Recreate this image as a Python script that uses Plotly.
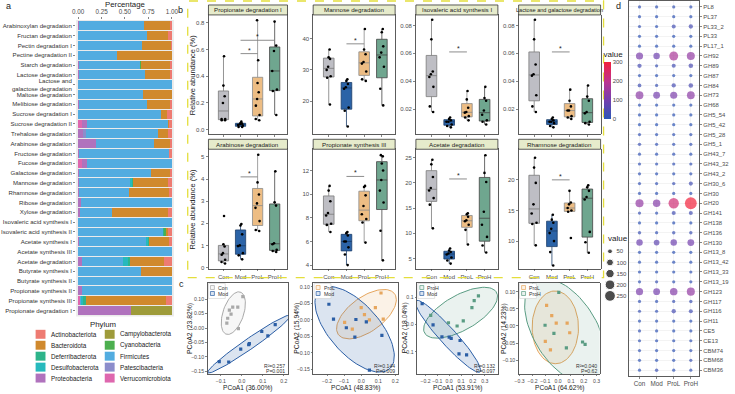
import numpy as np
import plotly.graph_objects as go

W, H = 735, 394
FONT = "Liberation Sans"
TXT = "#4D4D4D"
DARK = "#1A1A1A"


def fx(px):
    return px / W


def fy(py):
    return 1 - py / H


# ---------------- a: phylum composition of pathways ----------------
pathways = ["Arabinoxylan degradation", "Fructan degradation", "Pectin degradation I",
            "Pectine degradation II", "Starch degradation", "Lactose degradation",
            "Lactose and<br>galactose degradation", "Maltose degradation",
            "Melibiose degradation", "Sucrose degradation I", "Sucrose degradation II",
            "Trehalose degradation", "Arabinose degradation", "Fructose degradation",
            "Fucose degradation", "Galactose degradation", "Mannose degradation",
            "Rhamnose degradation", "Ribose degradation", "Xylose degradation",
            "Isovaleric acid synthesis I", "Isovaleric acid synthesis II",
            "Acetate synthesis I", "Acetate synthesis III", "Acetate degradation",
            "Butyrate synthesis I", "Butyrate synthesis II", "Propionate synthesis II",
            "Propionate synthesis III", "Propionate degradation I"]

verrucomicrobiota = [0, 0, 0, 0, 0, 0, 0, 0, 0, 0, .045, 0, 0, 0, .042, 0, 0, 0, 0, 0, 0, 0, 0, 0, 0, 0, 0, 0, .025, 0]
proteobacteria = [.005, 0, 0, 0, .01, .01, 0, 0, .015, 0, .055, .05, .19, .01, .056, .015, .015, .015, .035, .02, 0, 0, .015, 0, .042, 0, 0, .046, 0, .56]
patescibacteria = [0, 0, 0, 0, 0, 0, 0, 0, 0, 0, 0, .03, 0, 0, 0, 0, 0, 0, 0, 0, 0, 0, 0, 0, 0, 0, 0, 0, 0, 0]
firmicutes = [.695, .737, .677, .42, .65, .70, 1, .695, .722, .888, .858, .773, .617, .955, .902, .767, .54, .53, .965, .338, 1, .91, .705, 1, .432, .667, 1, .954, .01, 0]
desulfobacterota = [0, 0, 0, 0, 0, .005, 0, 0, 0, 0, 0, 0, 0, 0, 0, 0, .015, 0, 0, 0, 0, 0, .025, 0, .06, 0, 0, 0, .02, 0]
deferribacterota = [0, 0, 0, 0, .005, 0, 0, 0, 0, 0, 0, 0, 0, 0, 0, 0, .02, 0, 0, 0, 0, .01, .015, 0, .02, 0, 0, 0, .025, 0]
cyanobacteria = [0, 0, 0, 0, .01, 0, 0, 0, 0, 0, 0, 0, 0, 0, 0, 0, 0, 0, 0, 0, 0, .015, 0, 0, 0, 0, 0, 0, 0, 0]
campylobacterota = [0, 0, 0, 0, 0, 0, 0, 0, 0, 0, 0, 0, 0, 0, 0, 0, 0, 0, 0, 0, 0, 0, 0, 0, 0, 0, 0, 0, 0, .44]
bacteroidota = [.28, .221, .313, .58, .305, .265, 0, .305, .243, .062, .012, .105, .173, 0, 0, .198, .368, .42, 0, .60, 0, .02, .21, 0, .365, .333, 0, 0, .86, 0]
actinobacteriota = [.02, .042, .01, 0, .02, .02, 0, 0, .02, .05, .03, .042, .02, .035, 0, .02, .042, .035, 0, .042, 0, .045, .03, 0, .081, 0, 0, 0, .06, 0]

stack_names = ["Verrucomicrobiota", "Proteobacteria", "Patescibacteria", "Firmicutes",
               "Desulfobacterota", "Deferribacterota", "Cyanobacteria", "Campylobacterota",
               "Bacteroidota", "Actinobacteriota"]
stack_values = [verrucomicrobiota, proteobacteria, patescibacteria, firmicutes,
                desulfobacterota, deferribacterota, cyanobacteria, campylobacterota,
                bacteroidota, actinobacteriota]
phylum_colors = {
    "Actinobacteriota": "#EE7B72", "Bacteroidota": "#D0892D", "Campylobacterota": "#9E9B3A",
    "Cyanobacteria": "#4CAF4F", "Deferribacterota": "#2DB48A", "Desulfobacterota": "#27B9BD",
    "Firmicutes": "#52ACE0", "Patescibacteria": "#8C8DCB", "Proteobacteria": "#B072BD",
    "Verrucomicrobiota": "#DE67AE"}
legend_col1 = ["Actinobacteriota", "Bacteroidota", "Deferribacterota", "Desulfobacterota", "Proteobacteria"]
legend_col2 = ["Campylobacterota", "Cyanobacteria", "Firmicutes", "Patescibacteria", "Verrucomicrobiota"]

# ---------------- b: relative abundance boxplots ----------------
groups = ["Con", "Mod", "ProL", "ProH"]
b_titles = ["Propionate degradation I", "Mannose degradation", "Isovaleric acid synthesis I",
            "Lactose and galactose degradation", "Arabinose degradation",
            "Propionate synthesis III", "Acetate degradation", "Rhamnose degradation"]
b_values = [
    [[0.55, 0.33, 0.25, 0.20, 0.08, 0.08, 0.07, 0.07],
     [0.06, 0.05, 0.045, 0.04, 0.035, 0.03, 0.02, 0.02],
     [0.82, 0.52, 0.35, 0.28, 0.23, 0.18, 0.11, 0.08, 0.07],
     [0.81, 0.63, 0.59, 0.44, 0.30, 0.29, 0.11]],
    [[36.5, 34, 33.5, 31, 30, 28, 27.5, 19],
     [27, 26.5, 25.5, 24.5, 24, 18, 17, 12],
     [43, 36.5, 35, 32.5, 32, 29.5, 27, 26.5],
     [43, 42, 37.5, 35.5, 34, 31, 24, 18.7]],
    [[0.084, 0.070, 0.047, 0.045, 0.043, 0.036, 0.022, 0.018],
     [0.014, 0.013, 0.012, 0.011, 0.011, 0.009, 0.008, 0.007],
     [0.033, 0.027, 0.021, 0.018, 0.0175, 0.015, 0.014, 0.012],
     [0.036, 0.028, 0.026, 0.019, 0.016, 0.012, 0.011, 0.009]],
    [[0.084, 0.070, 0.052, 0.045, 0.044, 0.030, 0.022, 0.018],
     [0.014, 0.013, 0.012, 0.011, 0.011, 0.010, 0.008, 0.007],
     [0.034, 0.026, 0.022, 0.019, 0.019, 0.015, 0.014, 0.013],
     [0.037, 0.029, 0.026, 0.018, 0.017, 0.011, 0.010, 0.009]],
    [[2.33, 1.05, 0.95, 0.65, 0.58, 0.35, 0.25, 0.18],
     [1.97, 1.90, 1.5, 1.0, 0.97, 0.65, 0.55, 0.37],
     [5.1, 3.85, 3.3, 2.9, 2.7, 2.1, 1.7, 1.65],
     [4.35, 2.95, 2.8, 1.1, 1.05, 0.8, 0.75, 0.7]],
    [[10.7, 10.3, 9.4, 8.4, 8.2, 7.5, 7.4, 6.8],
     [6.8, 6.7, 6.5, 6.0, 6.0, 5.5, 4.9, 4.0],
     [10.7, 10.6, 9.9, 9.0, 8.3, 7.9, 7.6, 5.9],
     [13.3, 13.2, 12.6, 12.0, 11.2, 10.3, 9.3, 6.9, 4.4]],
    [[24.6, 23.7, 21.2, 19.0, 18.5, 17.0, 15.7, 11.0],
     [7.0, 6.6, 6.3, 6.0, 5.8, 5.2, 4.6, 4.0],
     [14.0, 13.8, 13.3, 12.6, 12.4, 11.7, 10.7, 7.8],
     [25.5, 22.0, 20.2, 14.3, 11.7, 9.3, 7.6, 6.2]],
    [[23.6, 22.0, 19.5, 16.0, 14.5, 13.0, 12.8, 9.3],
     [14.3, 13.5, 13.0, 12.0, 11.3, 10.0, 8.2, 6.0],
     [18.2, 16.3, 16.0, 15.4, 15.0, 14.8, 10.5],
     [19.1, 18.8, 18.2, 17.2, 16.8, 11.5, 9.8, 8.1]],
]
b_ranges = [[-0.035, 0.86], [9.5, 47.5], [0.002, 0.0875], [0.002, 0.0875],
            [-0.05, 5.35], [3.7, 13.8], [3.0, 26.7], [5.5, 25.0]]
b_ticks = [[0, 0.2, 0.4, 0.6, 0.8], [20, 30, 40], [0.02, 0.04, 0.06, 0.08], [0.02, 0.04, 0.06, 0.08],
           [0, 1, 2, 3, 4, 5], [4, 6, 8, 10, 12], [5, 10, 15, 20, 25], [10, 15, 20]]
b_tickfmt = [".1f", "d", ".2f", ".2f", "d", "d", "d", "d"]
b_signif = [[(1, 2, 0.57), (1, 3, 0.67)], [(1, 2, 38.3)], [(1, 2, 0.061)], [(1, 2, 0.061)],
            [(1, 2, 4.1)], [(1, 2, 11.5)], [(1, 2, 20.8)], [(1, 2, 20.0)]]
box_fill = {"Con": "#BEBEC4", "Mod": "#2B63A7", "ProL": "#EDBD84", "ProH": "#6FA68F"}
box_line = {"Con": "#7A7A7A", "Mod": "#1C3D69", "ProL": "#8A8A8A", "ProH": "#444444"}

# ---------------- c: PCoA ----------------
pcoa_groups = [("Con", "Mod"), ("ProL", "Mod"), ("ProH", "Mod"), ("ProL", "ProH")]
pcoa_x = [
    [[0.005, -0.019, -0.043, -0.059, -0.051, -0.067, -0.071, -0.016],
     [0.159, 0.095, 0.124, 0.036, 0.033, -0.005, -0.062, -0.107]],
    [[0.116, 0.0, 0.083, 0.019, 0.129, -0.097, -0.052, 0.048],
     [-0.189, -0.162, -0.087, -0.031, 0.030, -0.037, 0.121, 0.048]],
    [[0.247, 0.211, 0.192, -0.156, 0.119, 0.067, -0.006],
     [-0.228, -0.136, -0.061, 0.0, 0.017, 0.092, 0.083, 0.147]],
    [[-0.09, -0.015, -0.05, 0.07, 0.09, -0.10, -0.06],
     [0.005, -0.102, -0.033, 0.064, 0.19, 0.21]],
]
pcoa_y = [
    [[0.109, 0.073, 0.073, 0.062, 0.048, 0.034, 0.017, -0.002],
     [0.012, -0.012, -0.027, -0.054, -0.058, -0.073, -0.118, -0.117]],
    [[0.081, 0.037, 0.037, 0.016, 0.002, -0.008, -0.028, 0.0],
     [0.047, 0.002, -0.024, 0.001, -0.006, -0.052, -0.047, -0.152]],
    [[0.104, 0.087, 0.061, 0.033, 0.013, -0.006, 0.006],
     [0.076, -0.002, -0.046, -0.047, -0.051, -0.059, -0.108, -0.112]],
    [[0.06, 0.008, 0.03, 0.008, -0.02, -0.045, -0.07],
     [0.098, 0.002, -0.022, -0.064, -0.047, -0.054]],
]
pcoa_k = [[2.1, 2.15], [2.2, 2.2], [2.2, 2.2], [2.4, 2.55]]
pcoa_xtitle = ["PCoA1 (36.00%)", "PCoA1 (48.83%)", "PCoA1 (53.91%)", "PCoA1 (64.62%)"]
pcoa_ytitle = ["PCoA2 (23.82%)", "PCoA2 (15.94%)", "PCoA2 (18.04%)", "PCoA2 (14.23%)"]
pcoa_stats = [("R²=0.257", "P=0.001"), ("R²=0.144", "P=0.009"),
              ("R²=0.132", "P=0.097"), ("R²=0.040", "P=0.62")]
pcoa_xrange = [[-0.163, 0.222], [-0.281, 0.216], [-0.2725, 0.411], [-0.308, 0.323]]
pcoa_yrange = [[-0.16, 0.158], [-0.164, 0.1126], [-0.182, 0.153], [-0.141, 0.127]]
pcoa_xticks = [[-0.1, 0.0, 0.1, 0.2], [-0.2, -0.1, 0.0, 0.1, 0.2],
               [-0.2, -0.1, 0.0, 0.1, 0.2, 0.3], [-0.3, -0.2, -0.1, 0.0, 0.1, 0.2, 0.3]]
pcoa_yticks = [[0.10, 0.05, 0.0, -0.05, -0.10, -0.15], [0.10, 0.05, 0.0, -0.05, -0.10, -0.15],
               [0.1, 0.0, -0.1], [0.10, 0.05, 0.0, -0.05, -0.10]]
pcoa_yfmt = [".2f", ".2f", ".1f", ".2f"]
grp_color = {"Con": "#A9A9A9", "Mod": "#2B5EA5", "ProL": "#E6A65E", "ProH": "#5A9C83"}
grp_fill = {"Con": "rgba(190,190,190,0.12)", "Mod": "rgba(43,94,165,0.17)",
            "ProL": "rgba(230,166,94,0.15)", "ProH": "rgba(90,156,131,0.13)"}

# ---------------- d: CAZy dot plot ----------------
cazy = ["PL8", "PL37", "PL33_2", "PL33", "PL17_1", "GH92", "GH89", "GH87", "GH84", "GH73",
        "GH68", "GH5_54", "GH5_42", "GH5_28", "GH5_1", "GH43_7", "GH43_32", "GH43_2",
        "GH30_6", "GH30", "GH20", "GH141", "GH138", "GH136", "GH130", "GH13_8", "GH13_42",
        "GH13_33", "GH13_19", "GH123", "GH117", "GH116", "GH11", "CE5", "CE13", "CBM74",
        "CBM68", "CBM36"]
cazy_con = [15, 10, 15, 8, 8, 110, 40, 10, 30, 130, 10, 8, 6, 15, 25, 12, 15, 12, 15, 12,
            140, 20, 10, 25, 90, 10, 10, 10, 12, 110, 15, 20, 10, 15, 12, 12, 10, 10]
cazy_mod = [12, 8, 10, 8, 8, 90, 20, 8, 20, 100, 8, 6, 5, 10, 15, 10, 12, 10, 15, 10,
            120, 12, 6, 15, 70, 8, 8, 8, 20, 100, 12, 15, 8, 10, 10, 10, 8, 25]
cazy_prol = [15, 10, 35, 8, 10, 170, 35, 10, 40, 110, 10, 8, 6, 12, 15, 12, 15, 10, 25, 12,
             230, 35, 8, 25, 90, 10, 10, 10, 12, 120, 20, 40, 10, 8, 10, 10, 10, 10]
cazy_proh = [15, 10, 40, 8, 8, 140, 45, 8, 45, 130, 8, 6, 5, 12, 15, 10, 15, 12, 35, 12,
             300, 35, 8, 25, 100, 10, 10, 12, 15, 140, 25, 35, 10, 10, 12, 12, 20, 15]
size_legend_values = [50, 100, 150, 200, 250]
colorbar_ticks = [0, 100, 200, 300]
dot_scale = [[0.0, "#2B58B6"], [0.33, "#7440AE"], [0.66, "#BE3390"], [1.0, "#F2213B"]]

# =====================================================================
fig = go.Figure()
shapes, annotations = [], []
layout = dict(width=W, height=H, margin=dict(l=0, r=0, t=0, b=0), paper_bgcolor="white",
              plot_bgcolor="white", showlegend=False, barmode="stack",
              font=dict(family=FONT, size=7, color=DARK))


def tf(size=6, color=TXT):
    return dict(family=FONT, size=size, color=color)


def ann(x, y, text, size=7, color=DARK, xanchor="center", yanchor="middle", angle=0):
    annotations.append(dict(x=fx(x), y=fy(y), xref="paper", yref="paper", text=text,
                            showarrow=False, xanchor=xanchor, yanchor=yanchor,
                            textangle=angle, font=tf(size, color)))


# ---------- panel a ----------
totals = np.sum(np.array(stack_values, dtype=float), axis=0)
for name, vals in zip(stack_names, stack_values):
    fig.add_trace(go.Bar(y=pathways, x=list(np.array(vals) / totals), orientation="h",
                         marker=dict(color=phylum_colors[name], line=dict(width=0)),
                         width=0.9, xaxis="x", yaxis="y", hoverinfo="skip"))
layout["xaxis"] = dict(domain=[fx(73), fx(172)], range=[-0.021, 1.021], side="top",
                       tickvals=[0, .25, .5, .75, 1], ticktext=["0.00", "0.25", "0.50", "0.75", "1.00"],
                       anchor="y", showgrid=False, zeroline=False, ticks="outside", ticklen=2,
                       tickcolor="#333", tickwidth=0.6, tickfont=tf(6.3), tickangle=0)
layout["yaxis"] = dict(domain=[fy(318), fy(20)], type="category", categoryarray=pathways,
                       range=[29.6, -0.6], anchor="x", showgrid=False, zeroline=False,
                       ticks="outside", ticklen=2, tickcolor="#333", tickwidth=0.6,
                       tickfont=tf(6.1, "#333333"))
shapes.append(dict(type="rect", xref="x domain", yref="y domain", x0=0, x1=1, y0=0, y1=1,
                   fillcolor="#EBEBEB", line=dict(width=0), layer="below"))
ann(5, 6, "a", 9)
ann(123, 5, "Percentage", 7.8)
ann(100, 326, "Phylum", 7.8)
for col, names, sx, tx in [(0, legend_col1, 32, 46), (1, legend_col2, 102, 115)]:
    for i, nm in enumerate(names):
        cy = 336 + i * 11
        shapes.append(dict(type="rect", xref="paper", yref="paper", x0=fx(sx), x1=fx(sx + 10),
                           y0=fy(cy + 4.5), y1=fy(cy - 4.5), fillcolor=phylum_colors[nm],
                           line=dict(width=0)))
        ann(tx, cy, nm, 6.3, DARK, xanchor="left")

# ---------- panel b ----------
b_cols = [(207, 287), (313, 396), (417, 500), (521, 604)]
b_rows = [((5, 15), (15, 135)), ((140, 150), (150, 270))]
for i in range(8):
    n = i + 2
    r, c = divmod(i, 4)
    (sx0, sx1) = b_cols[c]
    (st0, st1), (py0, py1) = b_rows[r]
    xa, ya = f"x{n}", f"y{n}"
    for g, vals in zip(groups, b_values[i]):
        fig.add_trace(go.Box(x=[g] * len(vals), y=vals, name=g, xaxis=xa, yaxis=ya,
                             boxpoints="all", jitter=0.6, pointpos=0, width=0.6,
                             whiskerwidth=0, quartilemethod="linear",
                             fillcolor=box_fill[g], line=dict(color=box_line[g], width=0.8),
                             marker=dict(size=2.6, color="black"), hoverinfo="skip"))
    layout[f"xaxis{n}"] = dict(domain=[fx(sx0), fx(sx1)], type="category", categoryarray=groups,
                               range=[-0.88, 3.75], anchor=ya, showgrid=False, zeroline=False,
                               showline=True, mirror=True, linecolor="#333", linewidth=0.8,
                               ticks="outside", ticklen=2, tickcolor="#333", tickwidth=0.6,
                               showticklabels=(r == 1), tickfont=tf(6), tickangle=0)
    layout[f"yaxis{n}"] = dict(domain=[fy(py1), fy(py0)], range=b_ranges[i], tickvals=b_ticks[i],
                               tickformat=b_tickfmt[i], anchor=xa, showgrid=False, zeroline=False,
                               showline=True, mirror=True, linecolor="#333", linewidth=0.8,
                               ticks="outside", ticklen=2, tickcolor="#333", tickwidth=0.6,
                               tickfont=tf(6))
    shapes.append(dict(type="rect", xref="paper", yref="paper", x0=fx(sx0), x1=fx(sx1),
                       y0=fy(st1), y1=fy(st0), fillcolor="#E6EBCB",
                       line=dict(color="#333", width=0.8)))
    ann((sx0 + sx1) / 2, (st0 + st1) / 2, b_titles[i], 6.2 if i != 3 else 5.6)
    for (g0, g1, h) in b_signif[i]:
        shapes.append(dict(type="line", xref=xa, yref=ya, x0=g0, x1=g1, y0=h, y1=h,
                           line=dict(color="#808080", width=0.9)))
        annotations.append(dict(x=(g0 + g1) / 2, y=h, xref=xa, yref=ya, text="*",
                                showarrow=False, yanchor="bottom", yshift=-2, font=tf(7, DARK)))
ann(191, 75, "Relative abundance (%)", 7.5, DARK, angle=-90)
ann(191, 210, "Relative abundance (%)", 7.5, DARK, angle=-90)
ann(179, 10, "b", 9)
shapes.append(dict(type="rect", xref="paper", yref="paper", x0=fx(186), x1=fx(607),
                   y0=fy(279), y1=fy(1), line=dict(color="#E4DE3C", width=1.3, dash="dash"),
                   fillcolor="rgba(0,0,0,0)"))


# ---------- panel c ----------
def ellipse(xs, ys, k=2.2, m=90):
    xs, ys = np.asarray(xs), np.asarray(ys)
    cov = np.cov(np.vstack([xs, ys]))
    vals, vecs = np.linalg.eigh(cov)
    t = np.linspace(0, 2 * np.pi, m)
    circ = np.vstack([np.cos(t), np.sin(t)])
    pts = vecs @ np.diag(np.sqrt(np.maximum(vals, 0))) @ circ * k
    return xs.mean() + pts[0], ys.mean() + pts[1]


c_cols = [(206, 288), (313, 399), (418, 500), (521, 603)]
c_ytitle_x = [189, 297, 406, 507]
C_TOP, C_BOT = 284, 376
for j in range(4):
    n = 10 + j
    xa, ya = f"x{n}", f"y{n}"
    cx0, cx1 = c_cols[j]
    for gi, g in enumerate(pcoa_groups[j]):
        ex, ey = ellipse(pcoa_x[j][gi], pcoa_y[j][gi], k=pcoa_k[j][gi])
        fig.add_trace(go.Scatter(x=ex, y=ey, mode="lines", fill="toself",
                                 fillcolor=grp_fill[g], line=dict(color=grp_color[g], width=1.0),
                                 xaxis=xa, yaxis=ya, hoverinfo="skip"))
    for gi, g in enumerate(pcoa_groups[j]):
        fig.add_trace(go.Scatter(x=pcoa_x[j][gi], y=pcoa_y[j][gi], mode="markers",
                                 marker=dict(size=3.2, color=grp_color[g], symbol="square"),
                                 xaxis=xa, yaxis=ya, hoverinfo="skip"))
    layout[f"xaxis{n}"] = dict(domain=[fx(cx0), fx(cx1)], range=pcoa_xrange[j], tickvals=pcoa_xticks[j],
                               tickformat=".1f", anchor=ya, showgrid=False, zeroline=False,
                               showline=True, mirror=True, linecolor="#333", linewidth=0.8,
                               ticks="outside", ticklen=1.5, tickcolor="#333", tickwidth=0.6,
                               tickfont=tf(5.1), tickangle=0)
    layout[f"yaxis{n}"] = dict(domain=[fy(C_BOT), fy(C_TOP)], range=pcoa_yrange[j], tickvals=pcoa_yticks[j],
                               tickformat=pcoa_yfmt[j], anchor=xa, showgrid=False, zeroline=False,
                               showline=True, mirror=True, linecolor="#333", linewidth=0.8,
                               ticks="outside", ticklen=1.5, tickcolor="#333", tickwidth=0.6,
                               tickfont=tf(5.2))
    ann((cx0 + cx1) / 2, 390, pcoa_xtitle[j], 6.6)
    ann(c_ytitle_x[j], 330, pcoa_ytitle[j], 6.8, angle=-90)
    ann(cx1 - 1, 368, pcoa_stats[j][0], 5.1, "#333", xanchor="right")
    ann(cx1 - 1, 373, pcoa_stats[j][1], 5.1, "#333", xanchor="right")
    # small legend box
    shapes.append(dict(type="rect", xref="paper", yref="paper", x0=fx(cx0 + 1), x1=fx(cx0 + 18),
                       y0=fy(300), y1=fy(285), line=dict(color="#CFCFCF", width=0.6),
                       fillcolor="white"))
    for gi, g in enumerate(pcoa_groups[j]):
        yy = 289 + gi * 6
        shapes.append(dict(type="rect", xref="paper", yref="paper", x0=fx(cx0 + 3), x1=fx(cx0 + 7),
                           y0=fy(yy + 2), y1=fy(yy - 2), line=dict(color=grp_color[g], width=0.7),
                           fillcolor=grp_fill[g]))
        ann(cx0 + 8.5, yy, g, 5.2, "#333", xanchor="left")
ann(180, 285, "c", 9)

# ---------- panel d ----------
dx, dy, dv = [], [], []
for g, vals in zip(groups, [cazy_con, cazy_mod, cazy_prol, cazy_proh]):
    dx += [g] * len(cazy)
    dy += cazy
    dv += vals
SIZEREF = 4.3
fig.add_trace(go.Scatter(
    x=dx, y=dy, mode="markers", xaxis="x14", yaxis="y14", hoverinfo="skip",
    marker=dict(size=dv, sizemode="area", sizeref=SIZEREF, sizemin=1.6, color=dv,
                colorscale=dot_scale, cmin=0, cmax=300, line=dict(width=0),
                colorbar=dict(x=fx(607), xanchor="left", xpad=0, ypad=0,
                              y=fy(48), yanchor="top", len=71, lenmode="pixels",
                              thickness=7, thicknessmode="pixels",
                              outlinewidth=0, tickvals=colorbar_ticks, ticks="",
                              tickfont=tf(6), title=dict(text="value", side="top",
                                                         font=tf(8, DARK))))))
layout["xaxis14"] = dict(domain=[fx(633), fx(704)], type="category", categoryarray=groups,
                         range=[-0.6, 3.5], anchor="y14", showgrid=True, gridcolor="#EBEBEB",
                         gridwidth=0.6, zeroline=False, showline=True, mirror=True,
                         linecolor="#333", linewidth=0.8, ticks="outside", ticklen=2,
                         tickcolor="#333", tickwidth=0.6, tickfont=tf(6.3), tickangle=0)
layout["yaxis14"] = dict(domain=[fy(378), fy(1)], type="category", categoryarray=cazy,
                         range=[37.6, -0.6], anchor="x14", side="right", showgrid=True,
                         gridcolor="#EBEBEB", gridwidth=0.6, zeroline=False, showline=True,
                         mirror=True, linecolor="#333", linewidth=0.8, ticks="outside",
                         ticklen=2, tickcolor="#333", tickwidth=0.6, tickfont=tf(5.9))
# size legend
fig.add_trace(go.Scatter(
    x=[0.5] * len(size_legend_values), y=list(range(len(size_legend_values))), mode="markers",
    xaxis="x15", yaxis="y15", hoverinfo="skip",
    marker=dict(size=size_legend_values, sizemode="area", sizeref=SIZEREF, sizemin=1.6,
                color="black")))
layout["xaxis15"] = dict(domain=[fx(608), fx(619)], range=[0, 1], visible=False, anchor="y15")
layout["yaxis15"] = dict(domain=[fy(303), fy(247)], range=[4.5, -0.5], anchor="x15", side="right",
                         tickvals=list(range(len(size_legend_values))),
                         ticktext=[str(v) for v in size_legend_values], showgrid=False,
                         zeroline=False, showline=False, ticks="", tickfont=tf(6))
ann(609, 240, "value", 8, DARK, xanchor="left")
ann(622, 6, "d", 9)

layout["shapes"] = shapes
layout["annotations"] = annotations
fig.update_layout(**layout)
fig.write_html("out.html", config={"displayModeBar": False, "staticPlot": True},
               post_script="document.body.style.margin='0px';document.body.style.overflow='hidden';")
